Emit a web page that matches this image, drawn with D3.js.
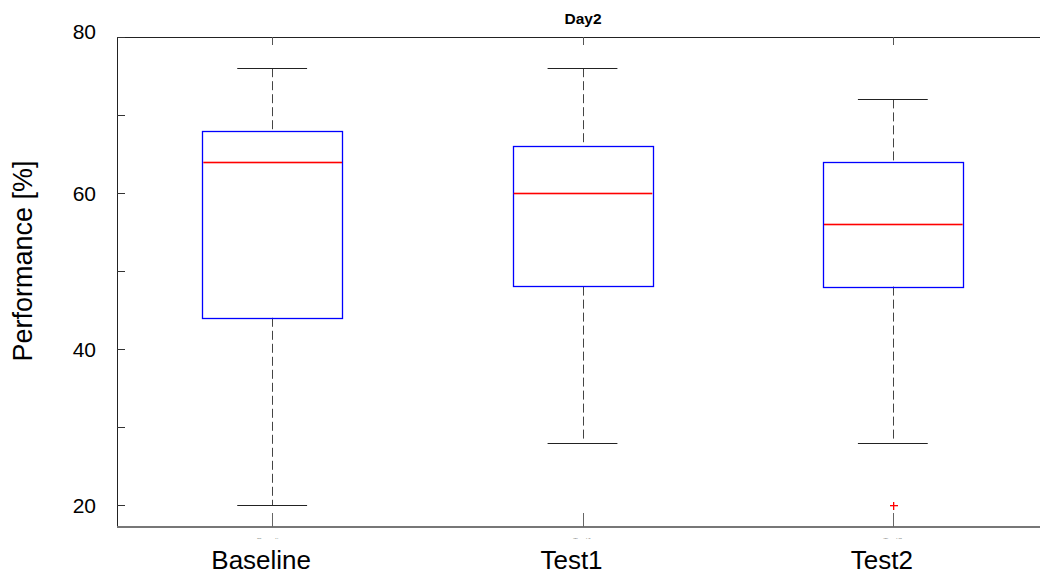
<!DOCTYPE html>
<html>
<head>
<meta charset="utf-8">
<script src="https://cdn.jsdelivr.net/npm/d3@7"></script>
<style>
  body { margin: 0; background: #fff; }
  text { font-family: "Liberation Sans", Arial, sans-serif; }
</style>
</head>
<body>
<div id="chart"></div>
<script>
// box plot data
const categories = ["Baseline", "Test1", "Test2"]
const whiskerLow = [20, 28, 28]
const q1 = [44, 48, 48]
const medians = [64, 60, 56]
const q3 = [68, 66, 64]
const whiskerHigh = [76, 76, 72]
const outliers = [[], [], [20]]
const majorTicks = [20, 40, 60, 80]
const minorTicks = [30, 50, 70]

const W = 1040, H = 575
const margin = { top: 37, right: -8, bottom: 48, left: 117 }
const yMin = 17.18

const svg = d3.select("#chart")
    .append("svg")
    .attr("width", W)
    .attr("height", H)

// x: category index 1..3 on a linear scale like matlab boxplot
const x = d3.scaleLinear()
    .domain([0.5, 3.5])
    .range([margin.left, W - margin.right])

// y: 80 at top, plot bottom a bit under 20
const y = d3.scaleLinear()
    .domain([80, yMin])
    .range([margin.top, H - margin.bottom])

const boxW = 0.45, capW = 0.225
const px = v => Math.round(v) + 0.5

// clip for the half-hidden small tick labels
svg.append("clipPath").attr("id", "tinyclip")
    .append("rect")
    .attr("x", 0).attr("y", 0).attr("width", W).attr("height", 538.5)

// plot frame
svg.append("line")
    .attr("x1", x(0.5)).attr("x2", x(3.5))
    .attr("y1", px(y(80))).attr("y2", px(y(80)))
    .attr("stroke", "#222")
svg.append("line")
    .attr("x1", px(x(0.5))).attr("x2", px(x(0.5)))
    .attr("y1", y(80)).attr("y2", y(yMin))
    .attr("stroke", "#222")
svg.append("line")
    .attr("x1", x(0.5)).attr("x2", x(3.5))
    .attr("y1", y(yMin)).attr("y2", y(yMin))
    .attr("stroke", "#777").attr("stroke-width", 2)

// y ticks (inward)
svg.selectAll(".ytick")
    .data(majorTicks.concat(minorTicks))
    .join("line")
    .attr("class", "ytick")
    .attr("x1", x(0.5)).attr("x2", x(0.5) + 8)
    .attr("y1", d => px(y(d))).attr("y2", d => px(y(d)))
    .attr("stroke", "#333")

svg.selectAll(".ylab")
    .data(majorTicks)
    .join("text")
    .attr("class", "ylab")
    .attr("x", 96)
    .attr("y", d => y(d) + (d === 80 ? 2 : 8))
    .attr("text-anchor", "end")
    .attr("font-size", 21)
    .text(d => d)

// x ticks top and bottom (inward)
const idx = categories.map((c, i) => i + 1)
svg.selectAll(".xtickTop")
    .data(idx)
    .join("line")
    .attr("class", "xtickTop")
    .attr("x1", d => px(x(d))).attr("x2", d => px(x(d)))
    .attr("y1", y(80)).attr("y2", y(80) + 8)
    .attr("stroke", "#555")
svg.selectAll(".xtickBot")
    .data(idx)
    .join("line")
    .attr("class", "xtickBot")
    .attr("x1", d => px(x(d))).attr("x2", d => px(x(d)))
    .attr("y1", y(yMin)).attr("y2", y(yMin) - 14)
    .attr("stroke", "#666")

// small tick labels under the axis, cut off at the bottom
svg.append("g")
    .attr("clip-path", "url(#tinyclip)")
    .selectAll("text")
    .data(categories)
    .join("text")
    .attr("x", (d, i) => x(i + 1))
    .attr("y", 543)
    .attr("text-anchor", "middle")
    .attr("font-size", 8)
    .attr("fill", "#333")
    .text(d => d)

// big category labels
svg.selectAll(".catlab")
    .data(categories)
    .join("text")
    .attr("class", "catlab")
    .attr("x", (d, i) => x(i + 1) - 11)
    .attr("y", 569)
    .attr("text-anchor", "middle")
    .attr("font-size", 26)
    .text(d => d)

// boxes
const g = svg.selectAll(".box")
    .data(categories)
    .join("g")
    .attr("class", "box")

// whiskers (dashed)
g.append("line")
    .attr("x1", (d, i) => px(x(i + 1))).attr("x2", (d, i) => px(x(i + 1)))
    .attr("y1", (d, i) => y(whiskerHigh[i])).attr("y2", (d, i) => y(q3[i]))
    .attr("stroke", "#444").attr("stroke-dasharray", "9,4")
g.append("line")
    .attr("x1", (d, i) => px(x(i + 1))).attr("x2", (d, i) => px(x(i + 1)))
    .attr("y1", (d, i) => y(q1[i])).attr("y2", (d, i) => y(whiskerLow[i]))
    .attr("stroke", "#444").attr("stroke-dasharray", "9,4")

// whisker caps
g.append("line")
    .attr("x1", (d, i) => x(i + 1 - capW / 2)).attr("x2", (d, i) => x(i + 1 + capW / 2))
    .attr("y1", (d, i) => px(y(whiskerHigh[i]))).attr("y2", (d, i) => px(y(whiskerHigh[i])))
    .attr("stroke", "#222")
g.append("line")
    .attr("x1", (d, i) => x(i + 1 - capW / 2)).attr("x2", (d, i) => x(i + 1 + capW / 2))
    .attr("y1", (d, i) => px(y(whiskerLow[i]))).attr("y2", (d, i) => px(y(whiskerLow[i])))
    .attr("stroke", "#222")

// box
g.append("rect")
    .attr("x", (d, i) => px(x(i + 1 - boxW / 2)))
    .attr("y", (d, i) => px(y(q3[i])))
    .attr("width", Math.round(x(1 + boxW) - x(1)))
    .attr("height", (d, i) => Math.round(y(q1[i]) - y(q3[i])))
    .attr("fill", "none")
    .attr("stroke", "#0000ff")
    .attr("stroke-width", 1.3)

// median as a thin filled red band
g.append("rect")
    .attr("x", (d, i) => x(i + 1 - boxW / 2) + 1)
    .attr("y", (d, i) => Math.round(y(medians[i])) - 0.3)
    .attr("width", x(1 + boxW) - x(1) - 1)
    .attr("height", 1.6)
    .attr("fill", "#ff0000")

// outliers as red plus signs
const pts = []
outliers.forEach((list, i) => list.forEach(v => pts.push({ i: i + 1, v: v })))
const og = svg.selectAll(".outlier")
    .data(pts)
    .join("g")
    .attr("class", "outlier")
og.append("rect")
    .attr("x", d => Math.round(x(d.i)) - 3).attr("y", d => Math.round(y(d.v)))
    .attr("width", 8).attr("height", 1.3)
    .attr("fill", "#ff0000")
og.append("rect")
    .attr("x", d => Math.round(x(d.i))).attr("y", d => Math.round(y(d.v)) - 3)
    .attr("width", 1.3).attr("height", 8)
    .attr("fill", "#ff0000")

// title and y label
svg.append("text")
    .attr("x", 583)
    .attr("y", 24)
    .attr("text-anchor", "middle")
    .attr("font-size", 15.5)
    .attr("font-weight", "bold")
    .text("Day2")

svg.append("text")
    .attr("transform", "translate(32,261) rotate(-90)")
    .attr("text-anchor", "middle")
    .attr("font-size", 27)
    .text("Performance [%]")
</script>
</body>
</html>
